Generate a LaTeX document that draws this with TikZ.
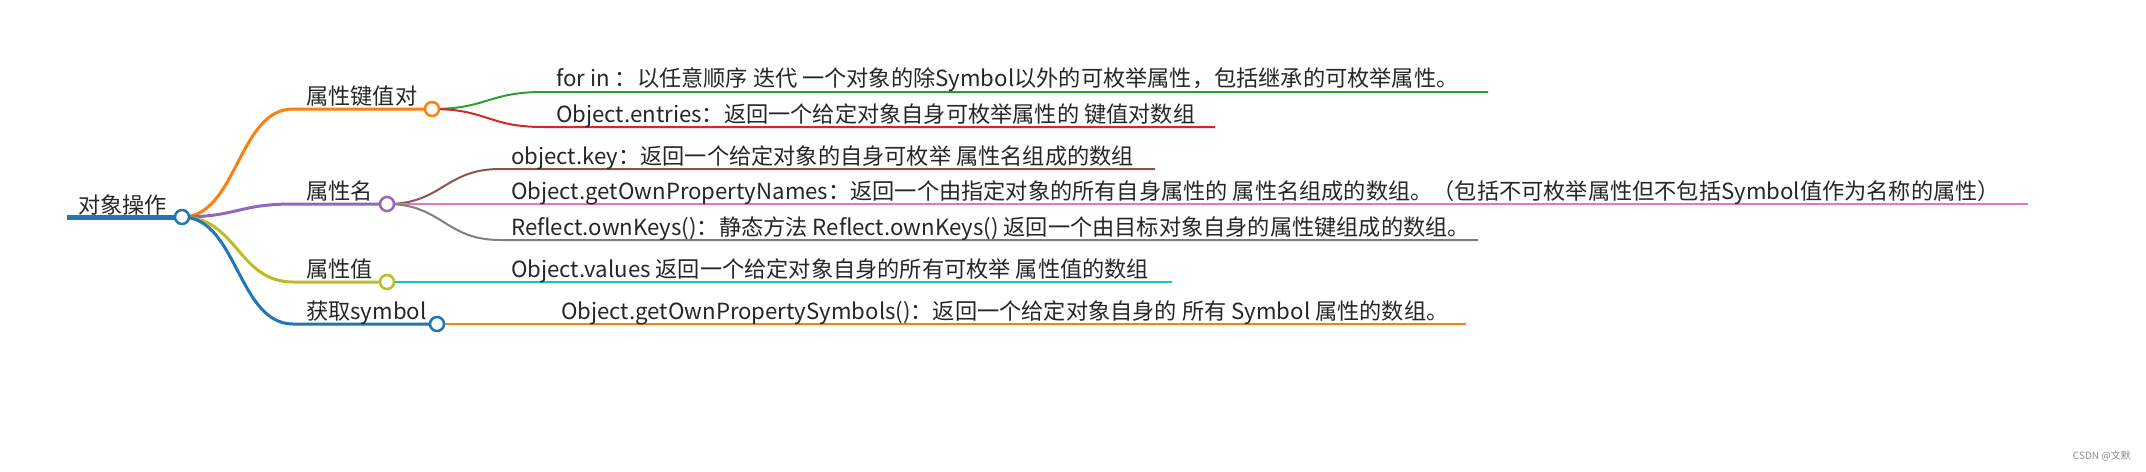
\documentclass[tikz,border=0pt]{standalone}
\usepackage{fontspec}
\setmainfont{Noto Sans CJK SC}
\definecolor{mmblue}{HTML}{1F77B4}
\definecolor{mmorange}{HTML}{FF7F0E}
\definecolor{mmgreen}{HTML}{2CA02C}
\definecolor{mmred}{HTML}{D62728}
\definecolor{mmpurple}{HTML}{9467BD}
\definecolor{mmbrown}{HTML}{8C564B}
\definecolor{mmpink}{HTML}{E377C2}
\definecolor{mmgrey}{HTML}{7F7F7F}
\definecolor{mmolive}{HTML}{BCBD22}
\definecolor{mmcyan}{HTML}{17BECF}
\usetikzlibrary{positioning, backgrounds}
\tikzset{
    knob/.style={circle, draw=#1, fill=white, line width=2.5pt, minimum size=14pt, inner sep=0pt},
    maptext/.style={anchor=base west, inner sep=0pt, text=black!85, font=\fontsize{22.2}{26}\selectfont},
    rootlink/.style={line width=5pt, mmblue},
    branchlink/.style={line width=3pt, #1},
    leaflink/.style={line width=2pt, #1},
}

\begin{document}
\begin{tikzpicture}[x=1pt, y=-1pt]
            \useasboundingbox (0,0) rectangle (2146,471);

            \node[knob=mmblue] (root) at (182,217) {};
            \node[knob=mmorange] (pairs) at (432,109) {};
            \node[knob=mmpurple] (names) at (387,204) {};
            \node[knob=mmolive] (values) at (387,282) {};
            \node[knob=mmblue] (symbols) at (437,324) {};

            \node[maptext] (rootText) at (78,213) {对象操作};
            \node[maptext] (pairsText) at (306,104) {属性键值对};
            \node[maptext] (namesText) at (306,199) {属性名};
            \node[maptext] (valuesText) at (306,277) {属性值};
            \node[maptext] (symbolsText) at (306,319) {获取symbol};

            \node[maptext] (forin) at (556,86) {for in ：以任意顺序 迭代 一个对象的除Symbol以外的可枚举属性，包括继承的可枚举属性。};
            \node[maptext] (entries) at (556,122) {Object.entries：返回一个给定对象自身可枚举属性的 键值对数组};
            \node[maptext] (objkey) at (511,164) {object.key：返回一个给定对象的自身可枚举 属性名组成的数组};
            \node[maptext] (ownnames) at (511,199) {Object.getOwnPropertyNames：返回一个由指定对象的所有自身属性的 属性名组成的数组。（包括不可枚举属性但不包括Symbol值作为名称的属性）};
            \node[maptext] (ownkeys) at (511,235) {Reflect.ownKeys()：静态方法 Reflect.ownKeys() 返回一个由目标对象自身的属性键组成的数组。};
            \node[maptext] (objvalues) at (511,277) {Object.values 返回一个给定对象自身的所有可枚举 属性值的数组};
            \node[maptext] (ownsymbols) at (561,319) {Object.getOwnPropertySymbols()：返回一个给定对象自身的 所有 Symbol 属性的数组。};

            \node[anchor=base east, inner sep=0pt, text=black!45, font=\fontsize{10}{12}\selectfont] (mark) at (2131,459) {CSDN @文默};

            \coordinate (rootTail) at (67,217);
            \coordinate (pairsIn) at (293,109);
            \coordinate (namesIn) at (293,204);
            \coordinate (valuesIn) at (293,282);
            \coordinate (symbolsIn) at (293,324);
            \coordinate (forinIn) at (543,92);
            \coordinate (entriesIn) at (543,127);
            \coordinate (objkeyIn) at (500,169);
            \coordinate (ownkeysIn) at (500,240);

            \coordinate (forinEnd) at (1488,92);
            \coordinate (entriesEnd) at (1215,127);
            \coordinate (objkeyEnd) at (1155,169);
            \coordinate (ownnamesEnd) at (2028,204);
            \coordinate (ownkeysEnd) at (1478,240);
            \coordinate (objvaluesEnd) at (1172,282);
            \coordinate (ownsymbolsEnd) at (1466,324);

            \begin{scope}[on background layer]
            \draw[rootlink] (rootTail) -- (root.center);

            \draw[branchlink=mmorange] (root.center) .. controls +(55,0) and +(-55,0) .. (pairsIn) -- (pairs.center);
            \draw[branchlink=mmpurple] (root.center) .. controls +(55,0) and +(-55,0) .. (namesIn) -- (names.center);
            \draw[branchlink=mmolive] (root.center) .. controls +(55,0) and +(-55,0) .. (valuesIn) -- (values.center);
            \draw[branchlink=mmblue] (root.center) .. controls +(55,0) and +(-55,0) .. (symbolsIn) -- (symbols.center);

            \draw[leaflink=mmgreen] (pairs.center) .. controls +(55,0) and +(-55,0) .. (forinIn) -- (forinEnd);
            \draw[leaflink=mmred] (pairs.center) .. controls +(55,0) and +(-55,0) .. (entriesIn) -- (entriesEnd);
            \draw[leaflink=mmbrown] (names.center) .. controls +(55,0) and +(-55,0) .. (objkeyIn) -- (objkeyEnd);
            \draw[leaflink=mmpink] (names.center) -- (ownnamesEnd);
            \draw[leaflink=mmgrey] (names.center) .. controls +(55,0) and +(-55,0) .. (ownkeysIn) -- (ownkeysEnd);
            \draw[leaflink=mmcyan] (values.center) -- (objvaluesEnd);
            \draw[leaflink=mmorange] (symbols.center) -- (ownsymbolsEnd);
            \end{scope}
        \end{tikzpicture}
\end{document}
